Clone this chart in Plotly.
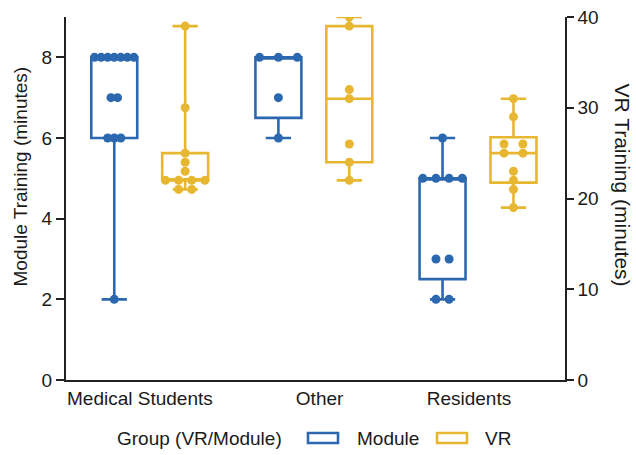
import plotly.graph_objects as go
import numpy as np

categories = ["Medical Students", "Other", "Residents"]
module_ms = [8, 8, 8, 8, 8, 8, 8, 7, 7, 6, 6, 6, 2]
module_other = [8, 8, 8, 7, 6]
module_res = [6, 5, 5, 5, 5, 3, 3, 2, 2]
vr_ms = [39, 30, 25, 24, 23, 22, 22, 22, 22, 21, 21]
vr_other = [40, 39, 32, 31, 26, 24, 22]
vr_res = [31, 29, 26, 26, 25, 25, 23, 22, 21, 19]
module_ticks = [0, 2, 4, 6, 8]
vr_ticks = [0, 10, 20, 30, 40]
group_names = ["Module", "VR"]

BLUE = "#2b68b0"
YELLOW = "#e8b731"
FONT = "Liberation Sans, Arial, sans-serif"
TXT = "#1a1a1a"
FS = 19

W, H = 636, 455
ML, MR, MT, MB = 66, 71, 17, 75
PW, PH = W - ML - MR, H - MT - MB


def px_to_paper(px, py):
    return (px - ML) / PW, (H - MB - py) / PH


def quant(vals, p):
    s = np.sort(np.asarray(vals, float))
    n = len(s)
    pos = (n + 1) * p
    lo = int(np.floor(pos))
    frac = pos - lo
    lo = min(max(lo, 1), n)
    hi = min(lo + 1, n)
    return s[lo - 1] + frac * (s[hi - 1] - s[lo - 1])


def stats(groups):
    return dict(
        q1=[quant(g, 0.25) for g in groups],
        median=[quant(g, 0.5) for g in groups],
        q3=[quant(g, 0.75) for g in groups],
        lowerfence=[min(g) for g in groups],
        upperfence=[max(g) for g in groups],
    )


def swarm(vals, center):
    uniq, counts = np.unique(vals, return_counts=True)
    maxc = counts.max()
    d = 0.11 if maxc <= 1 else min(0.115, 0.24 / (maxc - 1))
    xs, ys = [], []
    for v, c in zip(uniq, counts):
        for k in range(c):
            xs.append(center + (k - (c - 1) / 2) * d)
            ys.append(v)
    return xs, ys


OFF = 0.216
BW = 0.28
cat_pos = np.arange(len(categories))
label_nudge = np.array([-0.06, 0.035, -0.055])  # label placement, as in the reference

fig = go.Figure()
groups = [
    (group_names[0], [module_ms, module_other, module_res], BLUE, "y", -OFF),
    (group_names[1], [vr_ms, vr_other, vr_res], YELLOW, "y2", OFF),
]
for name, data, col, yax, off in groups:
    st = stats(data)
    fig.add_trace(go.Box(
        name=name, x=list(cat_pos + off), **st, width=BW,
        line=dict(color=col, width=2.6), fillcolor="white",
        whiskerwidth=0.55, boxpoints=False, yaxis=yax, hoverinfo="skip",
        showlegend=False,
    ))
for name, data, col, yax, off in groups:
    for i, g in enumerate(data):
        xs, ys = swarm(g, cat_pos[i] + off)
        fig.add_trace(go.Scatter(
            x=xs, y=ys, mode="markers", yaxis=yax, showlegend=False,
            marker=dict(color=col, size=9, line=dict(width=0)),
            hoverinfo="skip",
        ))

# legend (drawn as paper-space decorations)
annotations = []
shapes = []
ly = 438
tx, ty = px_to_paper(115, ly)
annotations.append(dict(text="Group (VR/Module)", x=tx, y=ty, xref="paper", yref="paper",
                        xanchor="left", yanchor="middle", showarrow=False,
                        font=dict(size=FS, family=FONT, color=TXT)))
for (name, col, rx, lx) in [(group_names[0], BLUE, 308, 355), (group_names[1], YELLOW, 437, 483)]:
    x0, y0 = px_to_paper(rx, ly + 5)
    x1, y1 = px_to_paper(rx + 30, ly - 5)
    shapes.append(dict(type="rect", xref="paper", yref="paper", x0=x0, y0=y0, x1=x1, y1=y1,
                       line=dict(color=col, width=2.6), fillcolor="white"))
    ax, ay = px_to_paper(lx, ly)
    annotations.append(dict(text=name, x=ax, y=ay, xref="paper", yref="paper",
                            xanchor="left", yanchor="middle", showarrow=False,
                            font=dict(size=FS, family=FONT, color=TXT)))

annotations.append(dict(
    text="Module Training (minutes)", textangle=-90, xref="paper", yref="paper",
    x=0, y=0.5, xanchor="center", yanchor="middle", xshift=-46, yshift=22,
    showarrow=False, font=dict(size=FS, family=FONT, color=TXT),
))
annotations.append(dict(
    text="VR Training (minutes)", textangle=90, xref="paper", yref="paper",
    x=1, y=0.5, xanchor="center", yanchor="middle", xshift=57, yshift=14,
    showarrow=False, font=dict(size=21, family=FONT, color=TXT),
))

fig.update_layout(
    width=W, height=H,
    margin=dict(l=ML, r=MR, t=MT, b=MB, autoexpand=False),
    paper_bgcolor="white", plot_bgcolor="white",
    font=dict(family=FONT, size=FS, color=TXT),
    showlegend=False,
    xaxis=dict(
        range=[-0.51, 2.53], tickvals=list(cat_pos + label_nudge), ticktext=categories,
        showline=True, linecolor="#222", linewidth=2, ticks="",
        showgrid=False, zeroline=False, tickfont=dict(size=FS), automargin=False,
    ),
    yaxis=dict(
        range=[0, 9], tickvals=module_ticks, showline=True, linecolor="#222",
        linewidth=2, ticks="outside", ticklen=8, tickwidth=1.5, tickcolor="#222",
        showgrid=False, zeroline=False, tickfont=dict(size=FS), automargin=False,
    ),
    yaxis2=dict(
        range=[0, 40], tickvals=vr_ticks, overlaying="y", side="right",
        showline=True, linecolor="#222", linewidth=1.5, ticks="outside",
        ticklen=7, tickwidth=1.5, tickcolor="#222", showgrid=False,
        zeroline=False, tickfont=dict(size=FS), automargin=False,
    ),
    annotations=annotations,
    shapes=shapes,
)

fig.write_html(
    "out.html",
    config={"displayModeBar": False},
    post_script="document.body.style.margin='0';document.body.style.padding='0';"
                "document.documentElement.style.overflow='hidden';",
)
